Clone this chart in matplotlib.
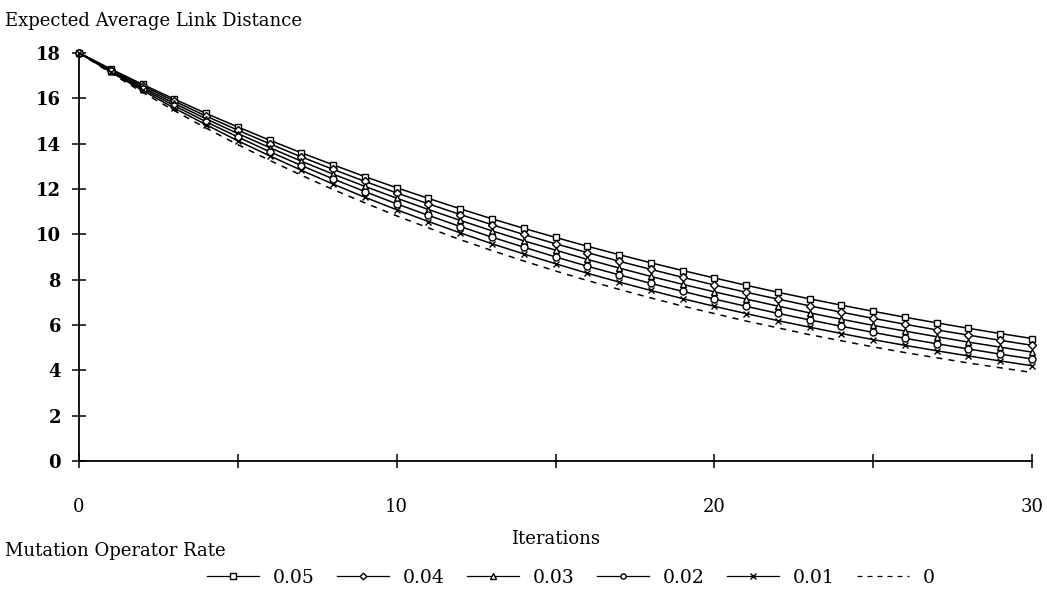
import matplotlib
matplotlib.use("Agg")
import matplotlib.pyplot as plt
from matplotlib.ticker import MultipleLocator, FixedFormatter, FixedLocator

iterations = list(range(31))

rate_labels = ["0.05", "0.04", "0.03", "0.02", "0.01", "0"]

dist_005 = [18.00, 17.29, 16.61, 15.96, 15.33, 14.73, 14.15, 13.59, 13.06, 12.54,
            12.05, 11.58, 11.12, 10.68, 10.26, 9.86, 9.47, 9.10, 8.74, 8.40,
            8.07, 7.75, 7.44, 7.15, 6.87, 6.60, 6.34, 6.09, 5.85, 5.62, 5.40]
dist_004 = [18.00, 17.26, 16.55, 15.87, 15.21, 14.59, 13.99, 13.41, 12.86, 12.33,
            11.82, 11.34, 10.87, 10.42, 9.99, 9.58, 9.19, 8.81, 8.45, 8.10,
            7.76, 7.44, 7.14, 6.84, 6.56, 6.29, 6.03, 5.78, 5.55, 5.32, 5.10]
dist_003 = [18.00, 17.22, 16.48, 15.77, 15.09, 14.44, 13.82, 13.22, 12.65, 12.11,
            11.59, 11.09, 10.61, 10.15, 9.71, 9.30, 8.89, 8.51, 8.14, 7.79,
            7.46, 7.14, 6.83, 6.53, 6.25, 5.98, 5.73, 5.48, 5.24, 5.02, 4.80]
dist_002 = [18.00, 17.19, 16.41, 15.67, 14.96, 14.29, 13.64, 13.03, 12.44, 11.88,
            11.34, 10.83, 10.34, 9.87, 9.43, 9.00, 8.59, 8.21, 7.83, 7.48,
            7.14, 6.82, 6.51, 6.22, 5.94, 5.67, 5.41, 5.17, 4.94, 4.71, 4.50]
dist_001 = [18.00, 17.15, 16.34, 15.56, 14.83, 14.12, 13.46, 12.82, 12.21, 11.63,
            11.08, 10.56, 10.06, 9.58, 9.13, 8.70, 8.28, 7.89, 7.52, 7.16,
            6.82, 6.50, 6.19, 5.90, 5.62, 5.35, 5.10, 4.86, 4.63, 4.41, 4.20]
dist_000 = [18.00, 17.11, 16.26, 15.45, 14.68, 13.95, 13.26, 12.60, 11.97, 11.38,
            10.81, 10.28, 9.76, 9.28, 8.82, 8.38, 7.96, 7.57, 7.19, 6.83,
            6.50, 6.17, 5.87, 5.57, 5.30, 5.03, 4.78, 4.55, 4.32, 4.11, 3.90]

series = [dist_005, dist_004, dist_003, dist_002, dist_001, dist_000]
markers = ["s", "D", "^", "o", "x", None]
msizes = [5, 4.5, 5, 5, 5, 0]

plt.rcParams["font.family"] = ["DejaVu Serif"]

fig = plt.figure(figsize=(10.47, 5.94), dpi=100)
ax = fig.add_axes([0.0755, 0.224, 0.9102, 0.687])

for vals, lab, mk, ms in zip(series, rate_labels, markers, msizes):
    if mk is None:
        ax.plot(iterations, vals, color="black", lw=1.1, ls=(0, (4, 4)),
                label=lab, clip_on=False)
    else:
        ax.plot(iterations, vals, color="black", lw=1.1, marker=mk,
                markersize=ms, markerfacecolor="white", markeredgecolor="black",
                markeredgewidth=1.0, label=lab, clip_on=False)

ax.set_xlim(0, 30)
ax.set_ylim(0, 18)
ax.spines["top"].set_visible(False)
ax.spines["right"].set_visible(False)
ax.spines["left"].set_linewidth(1.3)
ax.spines["bottom"].set_linewidth(1.3)

ax.xaxis.set_major_locator(FixedLocator([0, 5, 10, 15, 20, 25, 30]))
ax.xaxis.set_major_formatter(FixedFormatter(["0", "", "10", "", "20", "", "30"]))
ax.yaxis.set_major_locator(MultipleLocator(2))
ax.tick_params(direction="inout", length=10, width=1.1, labelsize=13)
ax.tick_params(axis="x", pad=22)
ax.tick_params(axis="y", pad=8)
for t in ax.get_yticklabels():
    t.set_fontweight("semibold")

ax.set_xlabel("Iterations", fontsize=13, labelpad=10)
fig.text(0.005, 0.965, "Expected Average Link Distance", fontsize=13,
         ha="left", va="center")
fig.text(0.005, 0.072, "Mutation Operator Rate", fontsize=13,
         ha="left", va="center")

leg = fig.legend(loc="center", bbox_to_anchor=(0.545, 0.027), ncol=6,
                 frameon=False, fontsize=13.5, handlelength=2.8,
                 handletextpad=0.7, columnspacing=1.2, markerscale=0.75)
for h in leg.legend_handles:
    h.set_linewidth(0.9)

fig.savefig("out.png", dpi=100)
